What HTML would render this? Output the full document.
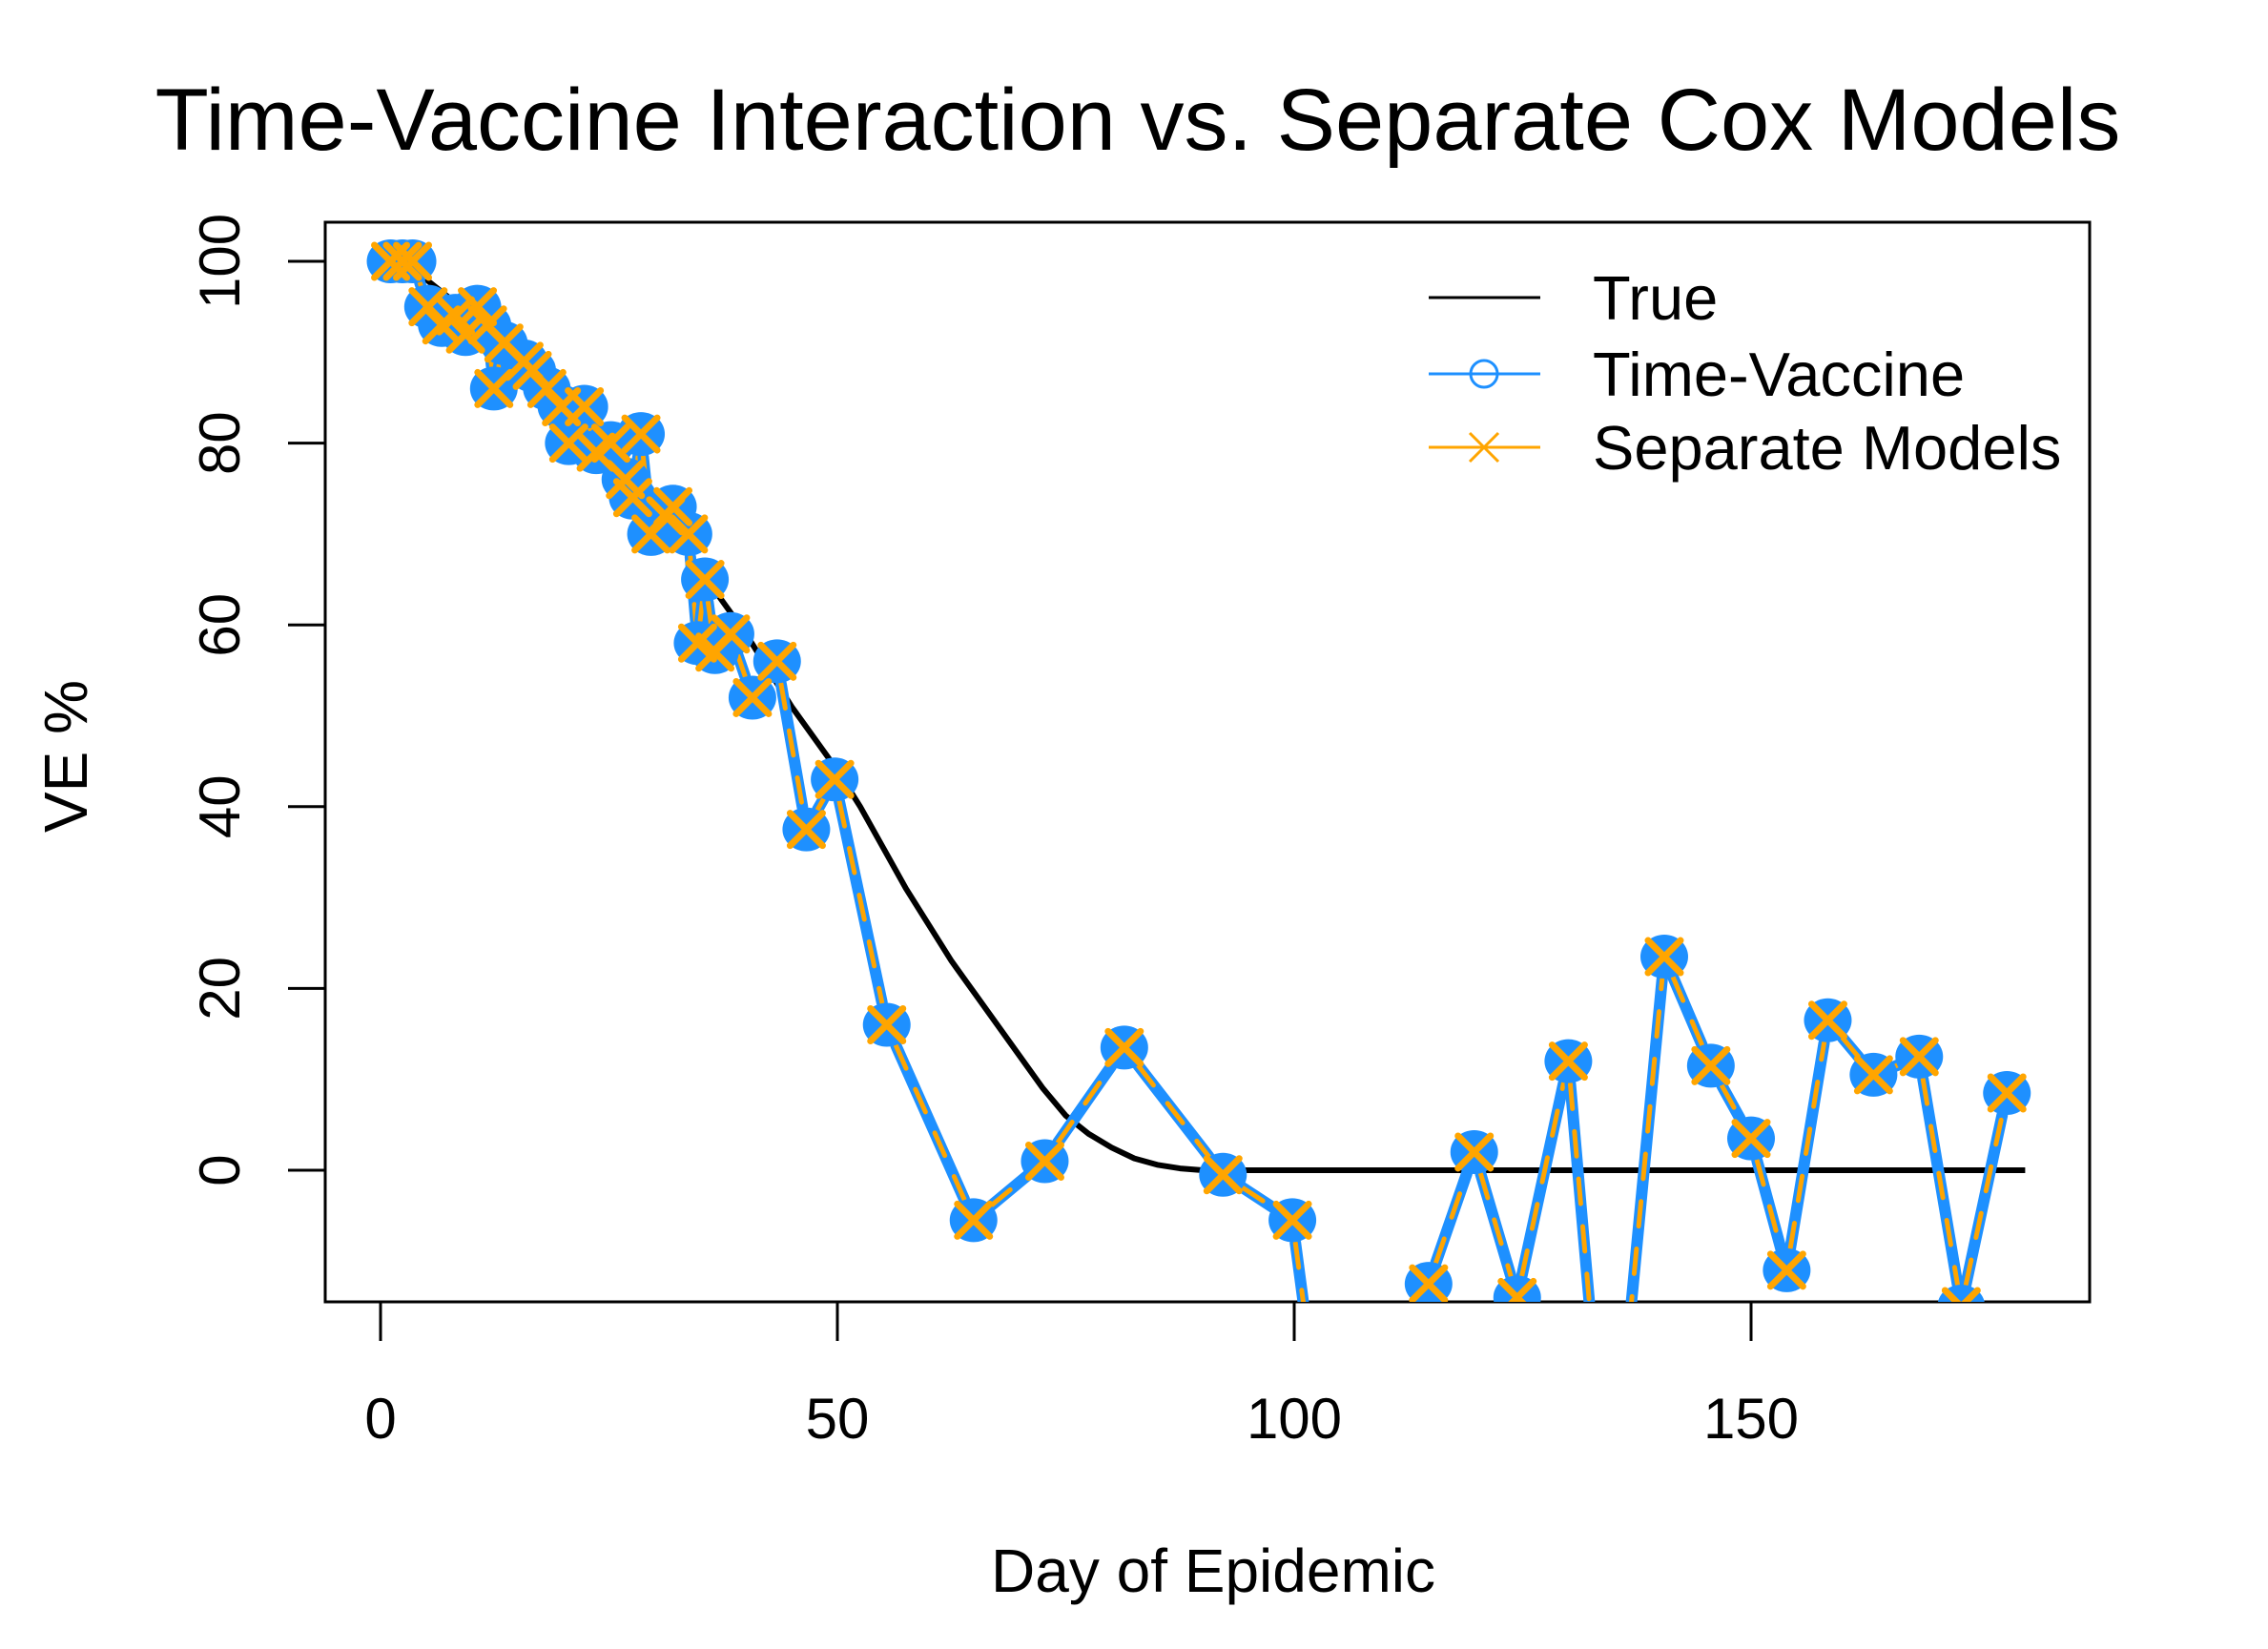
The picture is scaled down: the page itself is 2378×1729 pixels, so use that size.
<!DOCTYPE html>
<html><head><meta charset="utf-8"><style>html,body{margin:0;background:#fff;overflow:hidden;width:2378px;height:1729px}svg{display:block;font-family:"Liberation Sans",Arial,sans-serif}</style></head>
<body>
<svg id="chart" width="2378" height="1729" viewBox="0 0 2378 1729">
<defs><clipPath id="clip"><rect x="341" y="233" width="1850" height="1132"/></clipPath></defs>
<text x="1193" y="157" font-size="92" text-anchor="middle">Time-Vaccine Interaction vs. Separate Cox Models</text>
<rect x="341" y="233" width="1850" height="1132" fill="none" stroke="#000" stroke-width="3"/>
<g id="axes"></g>
<g id="series" clip-path="url(#clip)"></g>
<text x="1272" y="1669" font-size="64" text-anchor="middle">Day of Epidemic</text>
<text transform="translate(91,793) rotate(-90)" font-size="64" text-anchor="middle">VE %</text>
<g>
<line x1="1498" y1="312" x2="1615" y2="312" stroke="#000" stroke-width="3"/>
<text x="1670" y="335" font-size="65">True</text>
<line x1="1498" y1="392" x2="1615" y2="392" stroke="#1e90ff" stroke-width="3"/>
<circle cx="1556" cy="392" r="14" fill="none" stroke="#1e90ff" stroke-width="3"/>
<text x="1670" y="415" font-size="65">Time-Vaccine</text>
<line x1="1498" y1="469" x2="1615" y2="469" stroke="#ffa500" stroke-width="3"/>
<path d="M1541 454 L1571 484 M1571 454 L1541 484" stroke="#ffa500" stroke-width="3"/>
<text x="1670" y="492" font-size="65">Separate Models</text>
</g>
</svg>
<script>
const days=[1.1,2.4,3.5,5.2,6.7,8.2,9.3,10.6,11.7,12.4,13.5,15.7,16.6,18.2,19.8,20.6,22.3,23.6,25.2,26.8,27.6,28.5,29.6,31.2,32,33.7,34.7,35.5,36.6,38.3,40.7,43.4,46.6,49.7,55.4,64.9,72.7,81.4,92.2,99.8,107,114.7,119.7,124.4,130,134.5,140.5,145.6,150,153.9,158.4,163.4,168.4,173,178];
const veEst=[100,100,100,95,93,94,92,95,93,86,91,89,88,86,84,80,84,79,80,76,74,81,70,72,73,70,58,65,57,59,52,56,37.5,43,16,-5.5,1,13.5,-0.5,-5.5,-60,-12.5,2,-14,12,-40,23.5,11.5,3.5,-11,16.5,10.5,12.5,-15,8.5];
const trueDays=[0,5,10,15,20,25,30,35,40,45,50,52.5,55,57.5,60,62.5,65,67.5,70,72.5,75,77.5,80,82.5,85,87.5,90,180];
const trueVE=[100,98,94,89,84,79,73,66,59,51,44,40,35.5,31,27,23,19.5,16,12.5,9,6,4,2.5,1.3,0.6,0.2,0,0];
const xTicks=[0,50,100,150];
const yTicks=[0,20,40,60,80,100];
const X=d=>399+d*9.58, Y=v=>1227-v*9.53;
const NS="http://www.w3.org/2000/svg";
function mk(t,a,p){const e=document.createElementNS(NS,t);for(const k in a)e.setAttribute(k,a[k]);p.appendChild(e);return e;}
const ax=document.getElementById('axes'), sr=document.getElementById('series');
xTicks.forEach(t=>{
 const l=mk('line',{x1:X(t),x2:X(t),y1:1366,y2:1406,stroke:'#000','stroke-width':3},ax);
 
 
 const tx=mk('text',{x:X(t),y:1508,'font-size':60,'text-anchor':'middle'},ax);tx.textContent=t;
 
 
});
yTicks.forEach(t=>{
 const l=mk('line',{x1:302,x2:341,y1:Y(t),y2:Y(t),stroke:'#000','stroke-width':3},ax);
 
 
 const tx=mk('text',{transform:`translate(251,${Y(t)}) rotate(-90)`,'font-size':60,'text-anchor':'middle'},ax);tx.textContent=t;
 
 
});
const tl=mk('polyline',{points:trueDays.map((d,i)=>X(d)+','+Y(trueVE[i])).join(' '),fill:'none',stroke:'#000','stroke-width':6,'stroke-linejoin':'round'},sr);


const gap=24;
for(let i=0;i<days.length-1;i++){
 const x1=X(days[i]),y1=Y(veEst[i]),x2=X(days[i+1]),y2=Y(veEst[i+1]);
 const dx=x2-x1,dy=y2-y1,L=Math.hypot(dx,dy);
 if(L<=2*gap)continue;
 const ux=dx/L,uy=dy/L;
 const a={x1:x1+ux*gap,y1:y1+uy*gap,x2:x2-ux*gap,y2:y2-uy*gap};
 const b=mk('line',Object.assign({stroke:'#1e90ff','stroke-width':12,'stroke-linecap':'round'},a),sr);
 
 
 const o=mk('line',Object.assign({stroke:'#ffa500','stroke-width':5,'stroke-linecap':'round','stroke-dasharray':'26 24'},a),sr);
 
 
}
days.forEach((d,i)=>{
 const c=mk('ellipse',{cx:X(d),cy:Y(veEst[i]),rx:25,ry:23,fill:'#1e90ff'},sr);
 
 
});
days.forEach((d,i)=>{
 const x=X(d),y=Y(veEst[i]),r=17;
 const p=mk('path',{d:`M${x-r} ${y-r}L${x+r} ${y+r}M${x+r} ${y-r}L${x-r} ${y+r}`,stroke:'#ffa500','stroke-width':7,'stroke-linecap':'round'},sr);
 
 
});
</script>
</body></html>
